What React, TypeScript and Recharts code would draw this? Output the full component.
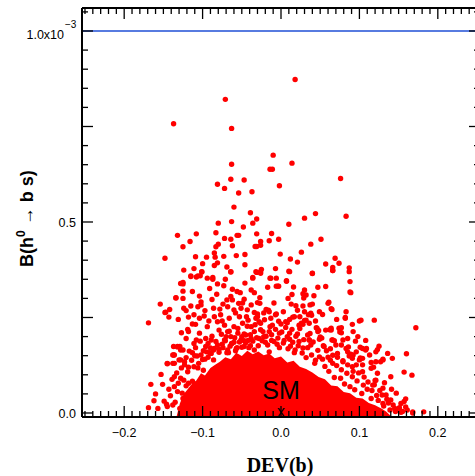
import React from 'react'
import { ComposedChart, Area, Scatter, XAxis, YAxis, ReferenceLine } from 'recharts'

// DEV(b) against B(h0 -> b s); branching ratios are in units of 1e-3

// sparse points above ~0.34
const tailPoints: [number, number][] = [
  [-0.071, 0.821], [-0.137, 0.757], [-0.063, 0.745], [-0.010, 0.675], [-0.063, 0.651], [-0.014, 0.638],
  [-0.011, 0.638], [-0.002, 0.595], [-0.064, 0.612], [-0.047, 0.610], [-0.081, 0.599], [-0.072, 0.588],
  [-0.054, 0.576], [-0.037, 0.579], [-0.060, 0.539], [-0.039, 0.524], [-0.031, 0.508], [-0.080, 0.497],
  [-0.063, 0.501], [-0.036, 0.497], [-0.048, 0.487], [-0.132, 0.465], [-0.108, 0.469], [-0.083, 0.472],
  [-0.072, 0.457], [-0.064, 0.455], [-0.056, 0.465], [-0.054, 0.465], [-0.031, 0.469], [-0.012, 0.470],
  [-0.003, 0.455], [-0.116, 0.449], [-0.125, 0.435], [-0.080, 0.442], [-0.083, 0.435], [-0.062, 0.438],
  [-0.033, 0.436], [-0.031, 0.436], [-0.026, 0.439], [-0.026, 0.449], [-0.015, 0.451], [-0.148, 0.405],
  [-0.109, 0.409], [-0.095, 0.408], [-0.085, 0.419], [-0.084, 0.408], [-0.073, 0.410], [-0.057, 0.412],
  [-0.046, 0.415], [-0.001, 0.416], [-0.100, 0.391], [-0.085, 0.386], [-0.081, 0.393], [-0.069, 0.382],
  [-0.046, 0.388], [-0.111, 0.378], [-0.101, 0.369], [-0.064, 0.369], [-0.031, 0.368], [-0.025, 0.376],
  [-0.007, 0.378], [-0.115, 0.359], [-0.108, 0.356], [-0.103, 0.359], [-0.036, 0.353], [-0.014, 0.353],
  [-0.006, 0.353], [-0.087, 0.350], [-0.071, 0.350],
  [0.018, 0.873], [0.014, 0.654], [0.076, 0.614], [0.044, 0.522], [0.030, 0.510], [0.083, 0.515],
  [0.010, 0.494], [0.051, 0.455], [0.038, 0.442], [0.026, 0.421], [0.012, 0.403], [0.069, 0.405],
  [0.021, 0.395], [0.057, 0.390], [0.074, 0.392], [0.066, 0.381], [0.066, 0.373], [0.087, 0.380],
  [0.010, 0.371], [0.040, 0.365], [0.007, 0.345], [0.088, 0.344],
  [-0.169, 0.236], [-0.154, 0.285], [-0.147, 0.264], [-0.143, 0.251], [-0.134, 0.301], [-0.128, 0.339],
  [-0.125, 0.342],
]

// medium density band, ~0.12 to ~0.34
const midPoints: [number, number][] = [
  [-0.017, 0.329], [-0.006, 0.332], [-0.003, 0.332], [0.016, 0.330], [0.047, 0.329], [0.057, 0.331],
  [0.030, 0.322], [0.088, 0.317], [0.014, 0.310], [0.028, 0.312], [0.029, 0.301], [0.042, 0.307],
  [0.040, 0.285], [0.061, 0.290], [-0.019, 0.271], [-0.016, 0.269], [0.021, 0.269], [0.030, 0.265],
  [0.037, 0.283], [0.049, 0.265], [0.064, 0.273], [0.083, 0.265], [-0.007, 0.257], [0.015, 0.251],
  [0.017, 0.252], [0.035, 0.257], [0.039, 0.256], [0.082, 0.250], [0.100, 0.241], [0.119, 0.243],
  [0.172, 0.223], [-0.003, 0.240], [0.008, 0.236], [0.026, 0.235], [0.030, 0.242], [0.028, 0.232],
  [0.045, 0.223], [0.048, 0.216], [0.062, 0.218], [0.064, 0.217], [0.077, 0.223], [0.075, 0.212],
  [0.052, 0.196], [0.065, 0.191], [0.068, 0.189], [0.079, 0.191], [0.036, 0.191], [0.086, 0.173],
  [0.101, 0.172], [0.109, 0.169], [0.125, 0.175], [0.123, 0.166], [0.136, 0.156], [0.160, 0.155],
  [0.054, 0.176], [0.063, 0.168], [0.077, 0.178],
  [-0.124, 0.374], [-0.101, 0.370], [-0.115, 0.357], [-0.106, 0.359], [-0.094, 0.353], [-0.087, 0.355],
  [-0.064, 0.370], [-0.036, 0.355], [-0.026, 0.366], [-0.125, 0.338], [-0.091, 0.326], [-0.081, 0.338],
  [-0.073, 0.333], [-0.062, 0.324], [-0.046, 0.340], [-0.052, 0.315], [-0.056, 0.318], [-0.038, 0.322],
  [-0.034, 0.315], [-0.113, 0.318], [-0.104, 0.306], [-0.125, 0.319], [-0.134, 0.302], [-0.125, 0.300],
  [-0.102, 0.291], [-0.082, 0.311], [-0.064, 0.305], [-0.062, 0.296], [-0.047, 0.298], [-0.030, 0.289],
  [-0.038, 0.283], [-0.054, 0.287], [-0.142, 0.271], [-0.124, 0.274], [-0.121, 0.268], [-0.106, 0.278],
  [-0.102, 0.283], [-0.086, 0.274], [-0.074, 0.285], [-0.068, 0.278], [-0.060, 0.270], [-0.051, 0.274],
  [-0.043, 0.270], [-0.034, 0.263], [-0.148, 0.263], [-0.111, 0.257], [-0.104, 0.248], [-0.098, 0.254],
  [-0.085, 0.252], [-0.077, 0.257], [-0.066, 0.248], [-0.053, 0.252], [-0.042, 0.243], [-0.030, 0.252],
  [-0.028, 0.239], [-0.113, 0.233], [-0.094, 0.226], [-0.081, 0.239], [-0.072, 0.230], [-0.060, 0.226],
  [-0.049, 0.235], [-0.038, 0.226], [-0.119, 0.219], [-0.118, 0.213], [-0.104, 0.209], [-0.079, 0.217],
  [-0.068, 0.213], [-0.055, 0.209], [-0.045, 0.204], [-0.034, 0.213], [-0.108, 0.191], [-0.096, 0.195],
  [-0.089, 0.191], [-0.072, 0.191], [-0.064, 0.200], [-0.051, 0.191], [-0.038, 0.195], [-0.132, 0.174],
  [-0.125, 0.165], [-0.111, 0.182], [-0.096, 0.174], [-0.085, 0.169], [-0.081, 0.178], [-0.068, 0.165],
  [-0.057, 0.169], [-0.047, 0.174], [-0.034, 0.165], [-0.138, 0.152], [-0.128, 0.139], [-0.113, 0.158],
  [-0.102, 0.152], [-0.089, 0.156], [-0.145, 0.130], [-0.136, 0.130], [-0.123, 0.134], [-0.111, 0.121],
  [-0.032, 0.370], [-0.026, 0.370], [-0.013, 0.353], [0.011, 0.370], [0.040, 0.366], [0.066, 0.373],
  [0.087, 0.370], [-0.004, 0.332], [0.007, 0.346], [0.032, 0.309], [0.089, 0.315], [-0.027, 0.287],
  [-0.015, 0.265], [-0.006, 0.259], [0.013, 0.285], [0.028, 0.280], [0.038, 0.261], [0.060, 0.287],
  [0.065, 0.271], [0.082, 0.248], [0.102, 0.243], [-0.030, 0.259], [-0.032, 0.248], [-0.026, 0.235],
  [-0.013, 0.248], [-0.011, 0.230], [0.000, 0.233], [0.006, 0.239], [0.011, 0.245], [0.023, 0.230],
  [0.032, 0.243], [0.036, 0.235], [0.046, 0.222], [0.047, 0.213], [0.057, 0.217], [0.064, 0.222],
  [0.074, 0.222], [0.077, 0.210], [0.092, 0.213], [-0.023, 0.213], [-0.015, 0.213], [-0.002, 0.209],
  [0.011, 0.209], [0.021, 0.207], [0.034, 0.204], [0.036, 0.191], [0.049, 0.193], [0.066, 0.191],
  [0.085, 0.195], [0.098, 0.200], [0.023, 0.187], [0.038, 0.178], [0.055, 0.174], [0.070, 0.178],
  [0.083, 0.169], [0.096, 0.160], [0.104, 0.169], [0.072, 0.156], [0.087, 0.149], [0.100, 0.139],
  [0.049, 0.147], [0.060, 0.146], [0.079, 0.134], [0.091, 0.121], [0.043, 0.130], [0.066, 0.130],
  [0.104, 0.126],
  [-0.118, 0.251], [-0.109, 0.232], [-0.097, 0.268], [-0.092, 0.241], [-0.088, 0.297], [-0.078, 0.272],
  [-0.075, 0.241], [-0.069, 0.296], [-0.058, 0.262], [-0.049, 0.288], [-0.044, 0.252], [-0.027, 0.302],
  [-0.022, 0.262], [-0.009, 0.288], [0.003, 0.265], [0.009, 0.300], [0.019, 0.281], [0.024, 0.252],
  [0.044, 0.241], [0.053, 0.258], [0.071, 0.245], [0.091, 0.232], [0.095, 0.188], [0.108, 0.190],
  [0.113, 0.152], [0.118, 0.120], [-0.121, 0.195], [-0.127, 0.210], [-0.115, 0.280], [-0.131, 0.245],
]

// crowded zone just above the solid core
const densePoints: [number, number][] = [
  [-0.127, 0.118], [-0.121, 0.145], [-0.117, 0.162], [-0.114, 0.138], [-0.109, 0.171], [-0.107, 0.149],
  [-0.103, 0.188], [-0.099, 0.163], [-0.097, 0.141], [-0.093, 0.182], [-0.091, 0.158], [-0.088, 0.201],
  [-0.086, 0.165], [-0.083, 0.187], [-0.079, 0.159], [-0.076, 0.206], [-0.074, 0.171], [-0.071, 0.189],
  [-0.067, 0.158], [-0.066, 0.214], [-0.063, 0.182], [-0.059, 0.197], [-0.058, 0.163], [-0.055, 0.221],
  [-0.053, 0.186], [-0.050, 0.172], [-0.047, 0.207], [-0.045, 0.184], [-0.043, 0.227], [-0.041, 0.171],
  [-0.039, 0.205], [-0.036, 0.188], [-0.033, 0.231], [-0.031, 0.197], [-0.029, 0.176], [-0.026, 0.218],
  [-0.024, 0.189], [-0.021, 0.244], [-0.019, 0.201], [-0.017, 0.178], [-0.014, 0.226], [-0.012, 0.205],
  [-0.009, 0.187], [-0.007, 0.219], [-0.004, 0.196], [-0.002, 0.171], [0.001, 0.212], [0.003, 0.183],
  [0.006, 0.224], [0.009, 0.168], [0.011, 0.193], [0.014, 0.219], [0.017, 0.158], [0.019, 0.201],
  [0.022, 0.176], [0.024, 0.221], [0.027, 0.157], [0.029, 0.192], [0.032, 0.145], [0.034, 0.171],
  [0.037, 0.208], [0.039, 0.152], [0.041, 0.186], [0.044, 0.138], [0.047, 0.164], [0.050, 0.199],
  [0.053, 0.141], [0.056, 0.122], [0.058, 0.163], [0.061, 0.109], [0.063, 0.138], [0.066, 0.151],
  [0.068, 0.093], [0.071, 0.124], [0.072, 0.146], [0.076, 0.091], [0.077, 0.113], [0.079, 0.137],
  [0.081, 0.076], [0.084, 0.104], [0.085, 0.126], [0.088, 0.069], [0.091, 0.095], [0.092, 0.109],
  [0.094, 0.061], [0.097, 0.084], [0.099, 0.105], [0.103, 0.051], [0.105, 0.073], [0.106, 0.094],
  [0.110, 0.062], [0.111, 0.081], [0.115, 0.038], [0.116, 0.059], [0.119, 0.074], [0.122, 0.046],
  [0.124, 0.033], [0.126, 0.059], [0.129, 0.047], [0.131, 0.018], [0.135, 0.036], [0.137, 0.026],
  [0.139, 0.008], [0.143, 0.021], [0.146, 0.004], [0.151, 0.014], [0.153, 0.002], [0.161, 0.008],
  [-0.141, 0.045], [-0.139, 0.088], [-0.135, 0.028], [-0.133, 0.105], [-0.131, 0.078], [-0.129, 0.012],
  [-0.126, 0.052], [-0.124, 0.086], [-0.121, 0.029], [-0.118, 0.078], [-0.157, 0.012], [-0.143, 0.062],
  [-0.160, 0.050],
  [-0.121, 0.071], [-0.113, 0.083], [-0.106, 0.118], [-0.099, 0.112], [-0.093, 0.146], [-0.086, 0.139],
  [-0.079, 0.167], [-0.069, 0.158], [-0.063, 0.181], [-0.056, 0.171], [-0.047, 0.189], [-0.039, 0.176],
  [-0.028, 0.195], [-0.020, 0.185], [-0.012, 0.190], [-0.005, 0.180], [0.004, 0.190], [0.012, 0.175],
  [0.018, 0.165], [-0.022, 0.200], [0.008, 0.200], [0.028, 0.170], [0.015, 0.185], [-0.015, 0.160],
  [-0.095, 0.160], [-0.090, 0.170], [-0.075, 0.180], [-0.060, 0.185], [-0.050, 0.200], [-0.042, 0.190],
  [-0.070, 0.200], [-0.100, 0.140], [-0.110, 0.150], [-0.118, 0.120], [-0.105, 0.130], [-0.065, 0.175],
]

// thin outer ring of the dense core, both sides
const outerPoints: [number, number][] = [
  [0.140, 0.095], [0.130, 0.065], [0.134, 0.047], [0.140, 0.034], [0.147, 0.052], [0.153, 0.025],
  [0.159, 0.016], [0.168, 0.000], [0.155, 0.004], [0.145, 0.012], [0.130, 0.025], [0.121, 0.086],
  [0.117, 0.073], [0.123, 0.104], [0.104, 0.108], [0.115, 0.117], [0.121, 0.134], [0.130, 0.139],
  [0.142, 0.143], [0.104, 0.143], [0.096, 0.126], [0.092, 0.152], [0.085, 0.160], [0.108, 0.165],
  [0.121, 0.160], [0.089, 0.154], [0.091, 0.143], [0.101, 0.144], [0.115, 0.132], [0.127, 0.134],
  [0.130, 0.141], [0.157, 0.107], [0.167, 0.099], [0.120, 0.085], [0.132, 0.079], [0.141, 0.062],
  [0.157, 0.030], [0.159, 0.037], [0.168, 0.003], [0.182, 0.003], [0.148, 0.010],
  [-0.132, 0.173], [-0.129, 0.174], [-0.137, 0.152], [-0.145, 0.129], [-0.153, 0.101], [-0.166, 0.075],
  [-0.151, 0.075], [-0.162, 0.032], [-0.149, 0.031], [-0.169, 0.014], [-0.146, 0.023], [-0.136, 0.069],
  [-0.138, 0.021], [-0.145, 0.017], [-0.136, 0.095], [-0.138, 0.130], [-0.136, 0.152], [-0.130, 0.139],
  [-0.137, 0.174], [-0.128, 0.165], [-0.123, 0.126], [-0.119, 0.108], [-0.128, 0.091], [-0.132, 0.056],
  [-0.125, 0.038],
]

// upper envelope of the saturated core, where the dots merge into one red patch
const coreX = [
  -0.133, -0.129, -0.124, -0.119, -0.113, -0.108, -0.102, -0.097, -0.090, -0.084, -0.078, -0.071, -0.064,
  -0.057, -0.050, -0.043, -0.036, -0.029, -0.022, -0.015, -0.008, 0, 0.008, 0.016, 0.024, 0.032, 0.040,
  0.048, 0.056, 0.064, 0.072, 0.080, 0.088, 0.096, 0.104, 0.112, 0.120, 0.128, 0.134, 0.140,
]
const coreY = [
  -0.008, 0.025, 0.050, 0.062, 0.078, 0.085, 0.104, 0.098, 0.118, 0.126, 0.134, 0.146, 0.141,
  0.158, 0.149, 0.163, 0.154, 0.161, 0.151, 0.156, 0.143, 0.148, 0.132, 0.137, 0.121, 0.115, 0.106,
  0.094, 0.088, 0.072, 0.070, 0.055, 0.052, 0.040, 0.038, 0.026, 0.020, 0.012, 0.004, -0.008,
]

const smPoint = [{ x: 0, y: 0 }]

const xMajorTicks = [-0.2, -0.1, 0, 0.1, 0.2]
const xMajorLabels = ['\u22120.2', '\u22120.1', '0.0', '0.1', '0.2']
const yLabelTicks = [0, 0.5, 1.0]
const yLabels = ['0.0', '0.5', '1.0x10']

const X_DOMAIN: [number, number] = [-0.2538, 0.2538]
const Y_DOMAIN: [number, number] = [-0.0105, 1.0602]

const W = 481
const H = 476
const LEFT = 82
const RIGHT = 480
const TOP = 8
const BOTTOM = 417

const xMinor: number[] = []
for (let i = -25; i <= 25; i++) xMinor.push(i / 100)
const yMinor: number[] = []
for (let i = 0; i <= 21; i++) yMinor.push(i / 20)

const dots = [...tailPoints, ...midPoints, ...densePoints, ...outerPoints].map(([x, y]) => ({ x, y }))
const coreData = coreX.map((x, i) => ({ x, y: coreY[i] }))

const tickFont = '"Liberation Sans", Arial, sans-serif'

const isXMajor = (v: number) => Math.round(v * 100) % 10 === 0
const isYMajor = (v: number) => Math.round(v * 100) % 25 === 0

function BottomTick(props: any) {
  const { x, payload } = props
  const v = payload.value
  const major = isXMajor(v)
  const idx = xMajorTicks.findIndex(t => Math.abs(t - v) < 1e-6)
  return (
    <g>
      <line x1={x} x2={x} y1={BOTTOM} y2={BOTTOM - (major ? 11 : 6)} stroke="#000" strokeWidth={1.3} />
      {idx >= 0 && (
        <text x={x} y={437} textAnchor="middle" fontSize={12.5} fontFamily={tickFont} fill="#000">
          {xMajorLabels[idx]}
        </text>
      )}
    </g>
  )
}

function TopTick(props: any) {
  const { x, payload } = props
  const major = isXMajor(payload.value)
  return <line x1={x} x2={x} y1={TOP} y2={TOP + (major ? 11 : 6)} stroke="#000" strokeWidth={1.3} />
}

function LeftTick(props: any) {
  const { y, payload } = props
  const v = payload.value
  const major = isYMajor(v)
  const idx = yLabelTicks.findIndex(t => Math.abs(t - v) < 1e-6)
  return (
    <g>
      <line x1={LEFT} x2={LEFT + (major ? 11 : 6)} y1={y} y2={y} stroke="#000" strokeWidth={1.3} />
      {idx >= 0 && idx < 2 && (
        <text x={76} y={y + 5} textAnchor="end" fontSize={12.5} fontFamily={tickFont} fill="#000">
          {yLabels[idx]}
        </text>
      )}
      {idx === 2 && (
        <g>
          <text x={64} y={y + 8.5} textAnchor="end" fontSize={12.5} fontFamily={tickFont} fill="#000">
            {yLabels[idx]}
          </text>
          <text x={65} y={y - 3} fontSize={10} fontFamily={tickFont} fill="#000">{'\u22123'}</text>
        </g>
      )}
    </g>
  )
}

function RightTick(props: any) {
  const { y, payload } = props
  const major = isYMajor(payload.value)
  return <line x1={RIGHT} x2={RIGHT - (major ? 11 : 6)} y1={y} y2={y} stroke="#000" strokeWidth={1.3} />
}

const RedDot = (p: any) => <circle cx={p.cx} cy={p.cy} r={2.7} fill="#ff0000" />

const SmMark = (p: any) => (
  <g>
    <text x={p.cx} y={p.cy - 14} textAnchor="middle" fontSize={25} fontFamily={tickFont} fill="#000">SM</text>
    <text x={p.cx} y={p.cy + 4.5} textAnchor="middle" fontSize={16} fontFamily={tickFont} fill="#000">x</text>
  </g>
)

export default function App() {
  return (
    <div style={{ position: 'fixed', left: 0, top: 0, width: 475, height: 476, overflow: 'hidden', background: '#fff' }}>
      <ComposedChart
        width={W}
        height={H}
        data={coreData}
        margin={{ top: TOP - 1, right: W - RIGHT - 1, bottom: H - BOTTOM - 1, left: LEFT - 1 }}
      >
        <XAxis
          xAxisId="b"
          dataKey="x"
          type="number"
          orientation="bottom"
          domain={X_DOMAIN}
          allowDataOverflow
          ticks={xMinor}
          interval={0}
          height={1}
          tickLine={false}
          axisLine={{ stroke: '#000', strokeWidth: 2 }}
          tick={BottomTick}
        />
        <XAxis
          xAxisId="t"
          dataKey="x"
          type="number"
          orientation="top"
          domain={X_DOMAIN}
          allowDataOverflow
          ticks={xMinor}
          interval={0}
          height={1}
          tickLine={false}
          axisLine={{ stroke: '#000', strokeWidth: 2 }}
          tick={TopTick}
        />
        <YAxis
          yAxisId="l"
          dataKey="y"
          type="number"
          orientation="left"
          domain={Y_DOMAIN}
          allowDataOverflow
          ticks={yMinor}
          interval={0}
          width={1}
          tickLine={false}
          axisLine={{ stroke: '#000', strokeWidth: 2 }}
          tick={LeftTick}
        />
        <YAxis
          yAxisId="r"
          dataKey="y"
          type="number"
          orientation="right"
          domain={Y_DOMAIN}
          allowDataOverflow
          ticks={yMinor}
          interval={0}
          width={1}
          tickLine={false}
          axisLine={{ stroke: '#000', strokeWidth: 2 }}
          tick={RightTick}
        />
        <Area
          xAxisId="b"
          yAxisId="l"
          dataKey="y"
          type="linear"
          baseValue={-0.008}
          stroke="none"
          fill="#ff0000"
          fillOpacity={1}
          dot={false}
          activeDot={false}
          isAnimationActive={false}
        />
        <Scatter xAxisId="b" yAxisId="l" data={dots} dataKey="y" shape={RedDot} isAnimationActive={false} />
        <ReferenceLine xAxisId="b" yAxisId="l" y={1.0} stroke="#1f4fd6" strokeWidth={1.4} />
        <Scatter xAxisId="b" yAxisId="l" data={smPoint} dataKey="y" shape={SmMark} isAnimationActive={false} />
      </ComposedChart>
      <svg width={475} height={476} style={{ position: 'absolute', left: 0, top: 0, pointerEvents: 'none' }}>
        <text
          x={280}
          y={472}
          textAnchor="middle"
          fontSize={20}
          fontWeight="bold"
          fontFamily='"Liberation Serif", "Times New Roman", serif'
          fill="#000"
        >
          DEV(b)
        </text>
        <text
          transform="translate(33,267) rotate(-90)"
          fontSize={18}
          fontWeight="bold"
          fontFamily={tickFont}
          fill="#000"
        >
          B(h<tspan dy={-8} fontSize={12}>0</tspan>
          <tspan dy={8}>{' \u2192 b s)'}</tspan>
        </text>
      </svg>
    </div>
  )
}
